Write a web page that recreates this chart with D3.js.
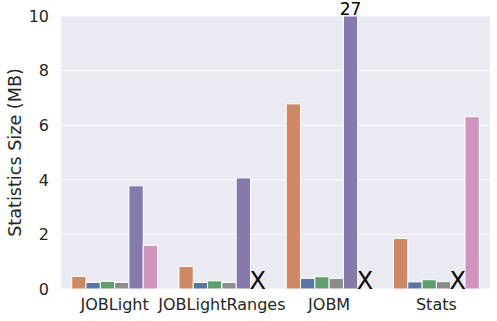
<!DOCTYPE html>
<html>
<head>
<meta charset="utf-8">
<script src="https://cdn.jsdelivr.net/npm/d3@7"></script>
<style>
  body { margin: 0; background: #fff; }
  text { font-family: "DejaVu Sans", sans-serif; }
</style>
</head>
<body>
<svg id="chart" width="497" height="321"></svg>
<script>

const categories = ['JOBLight', 'JOBLightRanges', 'JOBM', 'Stats'];
const methods = ['m1', 'm2', 'm3', 'm4', 'm5', 'm6'];
// null = missing (drawn as X)
const values_joblight = [0.46, 0.24, 0.28, 0.24, 3.78, 1.6];
const values_joblightranges = [0.83, 0.24, 0.3, 0.24, 4.07, null];
const values_jobm = [6.78, 0.39, 0.45, 0.39, 27, null];
const values_stats = [1.85, 0.26, 0.34, 0.27, null, 6.31];
const y_ticks = [0, 2, 4, 6, 8, 10];
const colors = ['#cd8963', '#5975a4', '#5f9e6e', '#8c8c8c', '#857aab', '#d095bf'];

const all_values = [values_joblight, values_joblightranges, values_jobm, values_stats];

const svg = d3.select('#chart');
const margin = {left: 61, right: 7, top: 16, bottom: 32};
const width = 497 - margin.left - margin.right;
const height = 321 - margin.top - margin.bottom;

const g = svg.append('g').attr('transform', `translate(${margin.left},${margin.top})`);

g.append('rect')
	.attr('width', width)
	.attr('height', height)
	.attr('fill', '#eaeaf2');

const x0 = d3.scaleBand().domain(categories).range([0, width]).paddingInner(0.2).paddingOuter(0.1);
const x1 = d3.scaleBand().domain(methods).range([0, x0.bandwidth()]);
const y = d3.scaleLinear().domain([0, 10]).range([height, 0]);

// grid
g.selectAll('.grid')
	.data(y_ticks)
	.enter()
	.append('line')
	.attr('x1', 0).attr('x2', width)
	.attr('y1', d => y(d)).attr('y2', d => y(d))
	.attr('stroke', '#fff')
	.attr('stroke-width', 1);

// y tick labels
g.selectAll('.ytick')
	.data(y_ticks)
	.enter()
	.append('text')
	.attr('x', -12)
	.attr('y', d => y(d))
	.attr('dy', '0.36em')
	.attr('text-anchor', 'end')
	.attr('font-size', 16)
	.attr('fill', '#262626')
	.text(d => d);

svg.append('text')
	.attr('transform', `translate(21,${margin.top + height / 2}) rotate(-90)`)
	.attr('text-anchor', 'middle')
	.attr('font-size', 17.6)
	.attr('fill', '#262626')
	.text('Statistics Size (MB)');

// x tick labels
g.selectAll('.xtick')
	.data(categories)
	.enter()
	.append('text')
	.attr('x', d => x0(d) + x0.bandwidth() / 2)
	.attr('y', height + 21)
	.attr('text-anchor', 'middle')
	.attr('font-size', 16)
	.attr('fill', '#262626')
	.text(d => d);

const groups = g.selectAll('.grp')
	.data(categories)
	.enter()
	.append('g')
	.attr('transform', d => `translate(${x0(d)},0)`);

groups.each(function(cat, ci){
	const vals = all_values[ci].map((v, i) => ({v: v, m: methods[i], i: i}));
	const sel = d3.select(this);
	sel.selectAll('rect')
		.data(vals.filter(d => d.v !== null))
		.enter()
		.append('rect')
		.attr('x', d => x1(d.m))
		.attr('width', x1.bandwidth())
		.attr('y', d => y(Math.min(d.v, 10)))
		.attr('height', d => height - y(Math.min(d.v, 10)))
		.attr('fill', d => colors[d.i])
		.attr('stroke', '#fff')
		.attr('stroke-width', 1);

	// clipped values get their number on top
	sel.selectAll('.over')
		.data(vals.filter(d => d.v !== null && d.v > 10))
		.enter()
		.append('text')
		.attr('x', d => x1(d.m) + x1.bandwidth() / 2)
		.attr('y', y(10) - 1)
		.attr('text-anchor', 'middle')
		.attr('font-size', 17)
		.attr('fill', '#000')
		.text(d => d.v);

	sel.selectAll('.miss')
		.data(vals.filter(d => d.v === null))
		.enter()
		.append('text')
		.attr('x', d => x1(d.m) + x1.bandwidth() / 2)
		.attr('y', height)
		.attr('text-anchor', 'middle')
		.attr('font-size', 24)
		.attr('fill', '#000')
		.text('X');
});

</script>
</body>
</html>
